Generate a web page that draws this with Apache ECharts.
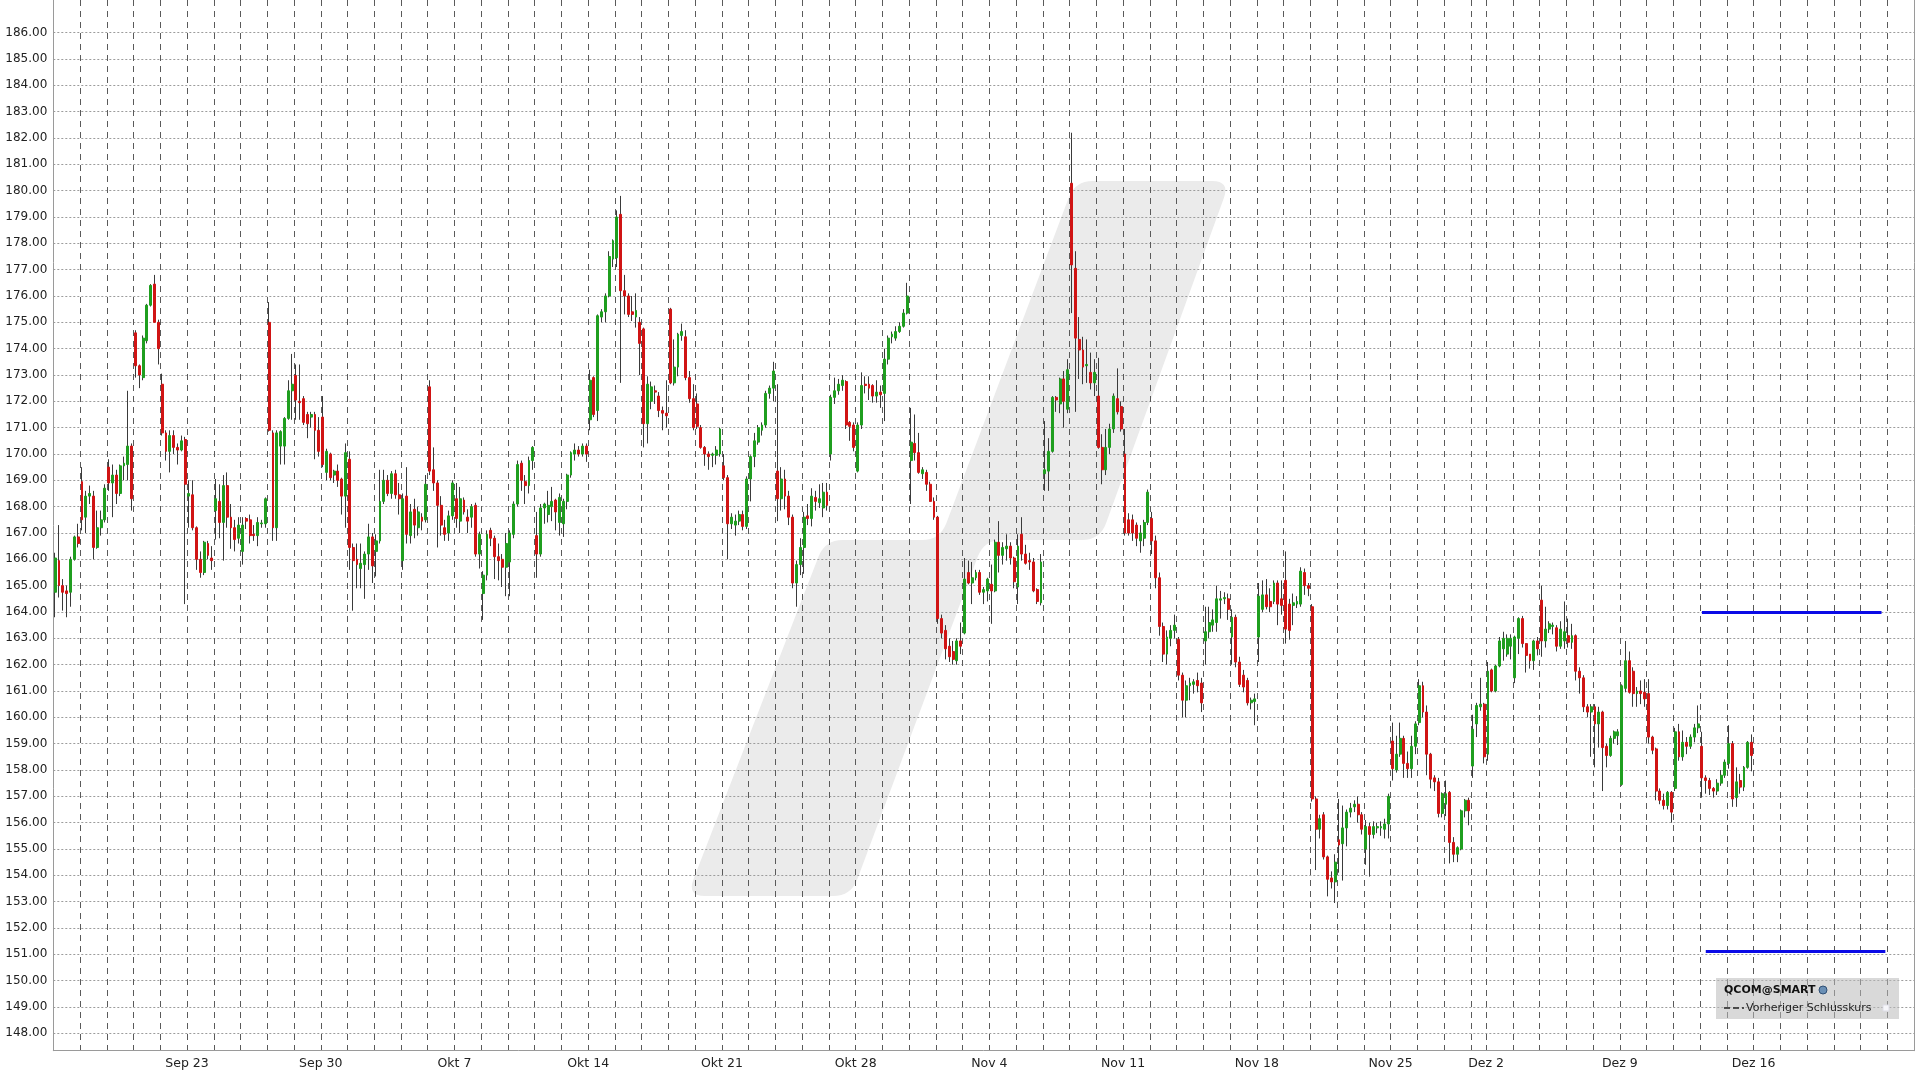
<!DOCTYPE html>
<html><head><meta charset="utf-8">
<script src="https://cdn.jsdelivr.net/npm/echarts@6/dist/echarts.min.js"></script>
<style>html,body{margin:0;padding:0;background:#fff}#chart{width:1920px;height:1080px}</style>
</head><body><div id="chart"></div>
<script>
// ---- trading days (hourly candles, 09:30 .. 15:30) ----
const tradingDays = [
 '2024-09-16','2024-09-17','2024-09-18','2024-09-19','2024-09-20',
 '2024-09-23','2024-09-24','2024-09-25','2024-09-26','2024-09-27',
 '2024-09-30','2024-10-01','2024-10-02','2024-10-03','2024-10-04',
 '2024-10-07','2024-10-08','2024-10-09','2024-10-10','2024-10-11',
 '2024-10-14','2024-10-15','2024-10-16','2024-10-17','2024-10-18',
 '2024-10-21','2024-10-22','2024-10-23','2024-10-24','2024-10-25',
 '2024-10-28','2024-10-29','2024-10-30','2024-10-31','2024-11-01',
 '2024-11-04','2024-11-05','2024-11-06','2024-11-07','2024-11-08',
 '2024-11-11','2024-11-12','2024-11-13','2024-11-14','2024-11-15',
 '2024-11-18','2024-11-19','2024-11-20','2024-11-21','2024-11-22',
 '2024-11-25','2024-11-26','2024-11-27','2024-11-29',
 '2024-12-02','2024-12-03','2024-12-04','2024-12-05','2024-12-06',
 '2024-12-09','2024-12-10','2024-12-11','2024-12-12','2024-12-13',
 '2024-12-16','2024-12-17','2024-12-18','2024-12-19','2024-12-20',
 '2024-12-23'
];
const halfDays = ['2024-11-29'];
const sessionHours = ['09:30','10:30','11:30','12:30','13:30','14:30','15:30'];
const halfDayHours = ['09:30','10:30','11:30','12:30'];
const weekLabels = {
 '2024-09-23':'Sep 23','2024-09-30':'Sep 30','2024-10-07':'Okt 7','2024-10-14':'Okt 14',
 '2024-10-21':'Okt 21','2024-10-28':'Okt 28','2024-11-04':'Nov 4','2024-11-11':'Nov 11',
 '2024-11-18':'Nov 18','2024-11-25':'Nov 25','2024-12-02':'Dez 2','2024-12-09':'Dez 9',
 '2024-12-16':'Dez 16'
};
const priceTicks = [148,149,150,151,152,153,154,155,156,157,158,159,160,161,162,163,164,165,166,167,
 168,169,170,171,172,173,174,175,176,177,178,179,180,181,182,183,184,185,186];

// ---- OHLC rows: [open, close, low, high] ----
const wkSep16 = [
 [164.75,166.05,163.8,166.25],[165.95,165.0,164.55,167.3],[165.0,164.75,164.05,165.25],[164.8,164.7,163.8,165.0],[164.75,166.0,164.2,166.1],[166.0,166.85,165.95,166.9],[166.85,166.6,166.45,167.35],
 [168.95,167.5,167.1,169.5],[167.6,168.4,167.0,168.6],[168.4,168.5,168.1,168.8],[168.4,166.45,166.0,168.6],[166.45,167.2,166.4,167.85],[167.2,167.5,166.9,167.85],[167.5,168.7,167.4,168.85],
 [169.5,168.9,168.6,169.8],[168.9,169.2,167.6,169.6],[169.2,168.5,168.1,169.4],[168.5,169.55,168.4,169.6],[169.55,169.65,169.0,169.9],[169.6,170.3,169.0,172.4],[170.3,168.3,167.85,170.4],
 [174.6,173.35,172.9,174.7],[173.35,173.0,172.5,173.4],[172.9,174.4,172.8,174.5],[174.3,175.65,174.2,175.7],[175.65,176.4,175.6,176.45],[176.45,175.0,175.0,176.8],[175.0,174.0,173.4,175.1],
 [172.65,170.8,170.7,173.05],[170.8,170.1,169.75,170.9],[170.1,170.7,169.3,170.9],[170.7,170.25,170.0,170.9],[170.25,170.15,169.6,170.4],[170.15,170.5,170.1,170.7],[170.55,168.85,164.3,170.65]
];
const wkSep23 = [
 [168.4,168.5,167.2,169.0],[168.45,167.2,167.1,169.0],[167.2,166.0,165.6,167.25],[166.0,165.5,165.3,166.3],[165.5,166.65,165.4,166.7],[166.6,166.15,166.0,166.7],[166.05,165.95,165.6,166.5],
 [167.85,168.3,166.75,169.05],[168.2,167.4,166.8,168.85],[167.4,168.8,165.95,169.2],[168.8,167.6,167.2,169.3],[167.6,167.2,166.4,168.1],[167.2,166.75,166.3,167.5],[166.8,167.3,166.6,167.6],
 [166.3,167.3,165.8,167.6],[167.55,167.45,167.15,167.6],[167.5,166.9,166.6,167.7],[166.95,166.9,166.7,167.3],[166.9,167.4,166.5,167.6],[167.35,167.38,167.2,167.5],[167.35,168.3,167.2,168.35],
 [175.0,170.9,170.85,175.77],[170.8,167.2,166.7,170.9],[167.2,170.8,166.7,170.9],[170.3,170.85,169.6,170.9],[170.3,171.35,169.6,171.4],[171.35,172.4,171.3,172.8],[172.4,172.65,171.3,173.8],
 [172.98,172.05,171.3,173.4],[172.0,171.95,171.3,173.4],[172.1,171.2,171.1,172.2],[171.5,171.15,170.6,171.6],[171.4,171.5,171.0,171.6],[171.5,170.9,169.8,171.6],[170.9,170.1,169.9,171.4]
];
const wkSep30 = [
 [171.4,169.6,169.5,172.2],[169.3,170.1,169.0,170.2],[170.0,169.1,169.0,170.05],[169.2,169.35,168.9,169.4],[169.35,169.0,168.75,169.6],[169.05,168.4,167.7,169.1],[168.4,170.05,167.2,170.4],
 [169.8,166.45,165.6,170.1],[166.45,165.95,164.05,166.6],[166.0,165.8,164.9,166.6],[165.65,165.85,164.9,166.6],[165.8,166.2,164.5,166.3],[166.2,166.85,165.6,167.35],[166.85,165.75,165.1,167.0],
 [166.3,166.7,165.35,166.95],[166.7,168.2,166.6,169.4],[168.2,169.0,168.1,169.4],[169.0,168.5,168.4,169.2],[168.5,169.25,168.3,169.35],[169.25,168.45,168.3,169.4],[168.45,168.3,167.7,168.9],
 [165.95,168.3,165.6,168.5],[168.4,166.95,166.6,169.5],[166.9,167.8,166.6,168.1],[167.9,167.3,166.8,168.3],[167.2,167.8,166.9,168.0],[167.6,167.45,167.1,167.75],[167.5,168.85,167.4,169.2],
 [172.55,169.35,169.2,172.8],[169.4,168.9,168.6,170.25],[168.9,168.05,166.45,169.0],[168.05,167.3,166.9,168.4],[167.2,166.95,166.7,167.5],[167.0,167.65,166.7,167.85],[167.65,168.9,167.5,169.0]
];
const wkOct7 = [
 [168.3,167.55,167.2,168.9],[167.45,168.3,167.0,168.75],[168.25,167.8,167.7,168.35],[167.6,167.45,167.0,167.9],[167.6,168.0,167.2,168.1],[168.05,166.2,166.1,168.15],[166.2,166.95,165.65,167.05],
 [164.7,165.4,163.7,165.55],[165.4,166.95,165.2,167.1],[167.1,166.8,166.5,167.2],[166.8,166.1,165.25,166.9],[166.1,165.95,165.2,166.6],[166.0,165.7,164.95,166.2],[165.7,166.6,164.6,167.0],
 [165.9,167.0,164.6,167.1],[166.95,168.1,166.8,168.2],[168.1,169.6,168.0,169.75],[169.65,169.0,168.6,169.75],[168.95,168.8,168.1,169.2],[168.8,169.75,168.5,169.9],[169.75,170.25,169.4,170.3],
 [166.9,166.2,165.3,167.8],[166.2,167.95,166.1,168.1],[167.95,168.1,167.35,168.15],[167.7,168.05,167.4,168.6],[168.0,168.2,167.45,168.75],[168.25,167.8,167.1,168.3],[167.4,168.35,166.9,168.5],
 [167.35,168.2,166.85,168.3],[168.2,169.2,167.9,169.25],[169.2,170.05,169.1,170.1],[170.0,170.15,169.75,170.4],[170.15,170.0,169.9,170.3],[170.0,170.3,169.9,170.4],[170.3,170.0,169.7,170.4]
];
const wkOct14 = [
 [171.3,172.8,170.9,173.2],[172.9,171.5,171.4,172.95],[171.65,175.25,171.25,175.3],[175.2,175.4,175.0,175.5],[175.4,176.0,175.0,176.1],[176.0,177.5,175.95,177.7],[177.4,178.1,177.1,178.15],
 [177.45,179.0,177.1,179.25],[179.1,176.2,172.7,179.8],[176.2,176.0,175.3,176.8],[176.0,175.3,175.2,176.1],[175.4,175.3,175.05,176.0],[175.2,175.45,174.8,176.1],[175.0,174.2,173.0,175.2],
 [174.75,171.15,170.25,174.8],[171.15,172.65,170.4,172.95],[172.0,172.55,171.7,172.75],[172.4,172.35,171.9,172.6],[172.2,171.65,171.4,172.35],[171.65,171.55,170.9,171.8],[171.55,171.45,171.0,172.8],
 [175.5,172.7,172.65,175.55],[172.7,173.3,172.6,174.35],[173.3,174.55,172.95,174.6],[174.5,174.65,174.3,174.95],[174.45,172.9,172.8,174.7],[172.9,172.1,171.95,173.15],[172.1,171.0,170.9,172.65],
 [171.9,171.05,170.95,172.3],[171.0,170.25,170.2,171.1],[170.25,170.0,169.55,170.3],[170.0,169.9,169.4,170.1],[169.95,170.0,169.5,170.05],[169.95,170.15,169.6,170.3],[170.0,170.95,169.9,171.0]
];
const wkOct21 = [
 [169.55,169.1,169.0,170.0],[169.1,167.35,166.0,169.2],[167.35,167.6,167.15,167.75],[167.3,167.45,166.9,167.7],[167.45,167.7,167.3,167.85],[167.7,167.25,167.1,167.85],[167.25,169.05,167.15,169.15],
 [169.05,169.9,168.2,169.95],[169.9,170.5,169.5,170.8],[170.45,171.0,170.35,171.1],[170.9,171.1,170.7,171.2],[171.1,172.3,171.0,172.4],[172.3,172.5,172.1,172.6],[172.5,173.15,172.0,173.5],
 [169.35,168.3,167.45,172.65],[168.3,169.05,167.85,169.5],[169.05,168.4,167.9,169.4],[168.4,167.6,167.3,168.6],[167.6,165.1,164.9,167.7],[165.1,165.8,164.2,165.95],[165.8,166.45,165.4,166.8],
 [166.45,167.6,165.45,167.8],[167.65,167.55,167.3,168.1],[167.55,168.4,167.25,168.7],[168.35,168.2,167.85,168.6],[168.15,168.3,167.95,168.85],[167.95,168.55,167.6,168.9],[168.55,168.05,167.85,168.9],
 [170.0,172.15,169.75,172.25],[172.15,172.4,171.9,172.9],[172.4,172.65,172.25,172.85],[172.6,172.8,172.4,173.0],[172.75,171.1,170.95,172.8],[171.2,171.05,170.5,171.25],[171.1,170.25,170.1,171.2]
];
const wkOct28 = [
 [169.35,171.1,169.3,171.2],[171.1,172.6,170.95,173.1],[172.65,172.6,172.3,172.95],[172.65,172.5,172.05,172.95],[172.6,172.2,171.95,172.65],[172.2,172.35,171.95,172.8],[172.35,172.25,171.75,172.6],
 [172.3,173.6,171.25,174.0],[173.6,174.4,173.4,174.5],[174.45,174.55,174.2,174.65],[174.4,174.65,174.3,174.85],[174.65,174.85,174.6,175.0],[174.85,175.35,174.8,175.5],[175.35,176.0,175.3,176.5],
 [169.75,170.45,168.1,171.75],[170.4,170.05,169.75,171.5],[170.05,169.3,169.25,170.8],[169.25,169.4,169.05,169.5],[169.3,168.85,168.6,169.4],[168.85,168.2,168.2,168.95],[168.2,167.6,167.5,168.35],
 [167.6,163.75,163.55,167.65],[163.75,163.2,163.0,163.9],[163.3,162.6,162.2,163.5],[162.7,162.3,162.1,163.0],[162.5,162.2,162.0,162.9],[162.15,162.9,162.0,163.0],[162.9,162.7,162.4,163.6],
 [163.2,165.25,163.15,166.05],[165.5,165.1,165.05,165.95],[165.1,165.3,164.3,165.9],[165.3,165.5,165.2,165.6],[165.5,164.75,164.65,165.6],[164.75,164.85,164.3,164.95],[164.8,165.25,164.4,165.3]
];
const wkNov4 = [
 [165.05,164.8,163.55,165.8],[164.8,166.65,164.75,166.75],[166.65,166.15,165.5,167.45],[166.15,166.45,165.8,166.65],[166.4,166.5,165.95,166.95],[166.5,166.05,165.8,166.65],[166.05,165.15,164.9,166.1],
 [164.95,166.5,164.3,166.95],[166.95,166.2,165.95,167.6],[166.2,165.85,165.8,166.55],[165.95,165.9,165.6,166.25],[165.9,164.8,164.75,166.05],[164.85,164.4,164.3,164.9],[164.35,165.9,164.25,166.2],
 [169.25,169.4,168.6,171.25],[169.35,170.1,168.6,170.6],[170.1,172.15,170.05,172.2],[172.15,172.05,171.6,172.2],[171.9,172.85,171.55,172.9],[172.85,172.0,171.0,173.15],[171.7,173.2,171.55,173.6],
 [180.28,177.18,175.35,182.2],[177.05,174.4,171.6,177.7],[174.35,173.95,172.85,175.2],[173.95,173.3,172.65,174.45],[173.35,173.4,172.7,174.35],[173.1,172.7,172.45,173.85],[172.7,173.1,172.2,173.6],
 [172.2,170.25,170.2,173.65],[170.25,169.4,168.85,170.75],[169.4,170.25,169.2,170.95],[170.25,170.95,170.0,171.15],[170.95,172.2,170.8,172.3],[172.1,171.6,171.5,173.25],[171.8,170.95,170.85,172.0]
];
const wkNov11 = [
 [170.0,167.0,166.9,170.95],[167.5,167.0,166.9,167.75],[167.5,167.0,166.7,167.7],[167.3,166.8,166.5,167.4],[166.7,167.0,166.25,167.3],[166.8,167.4,166.5,167.5],[167.4,168.55,167.3,168.65],
 [167.55,166.7,166.2,167.8],[166.7,165.3,164.9,166.9],[165.3,163.45,163.1,165.5],[163.45,162.4,162.1,163.6],[162.4,163.05,162.0,163.3],[163.0,163.3,162.7,163.5],[163.3,163.5,163.0,163.9],
 [162.96,161.6,161.4,163.05],[161.6,160.65,160.0,161.7],[160.65,161.2,160.0,161.4],[161.2,161.3,160.65,161.5],[161.25,161.35,160.9,161.45],[161.4,161.2,160.95,161.7],[161.3,160.55,160.2,161.5],
 [162.9,163.25,162.0,164.2],[163.25,163.6,163.0,164.2],[163.5,163.7,163.25,164.1],[163.6,164.5,163.25,165.0],[164.45,164.5,163.75,164.8],[164.5,164.55,164.3,164.75],[164.5,164.1,163.7,164.7],
 [163.05,163.8,162.0,164.1],[163.8,162.1,161.9,163.9],[162.1,161.25,161.15,162.3],[161.6,161.15,160.95,161.8],[161.4,160.55,160.45,161.5],[160.55,160.65,160.3,160.75],[160.6,160.7,159.7,160.9]
];
const wkNov18 = [
 [163.05,164.6,162.1,165.1],[164.1,164.65,164.0,165.2],[164.65,164.2,164.1,165.25],[164.4,164.2,164.0,164.9],[164.4,165.1,164.3,165.2],[165.1,164.3,163.5,165.2],[164.5,164.25,163.9,165.2],
 [165.2,163.35,162.8,166.3],[164.3,163.3,162.95,164.5],[164.25,164.35,163.5,164.7],[164.3,164.4,164.15,164.6],[164.3,165.55,164.2,165.7],[165.5,165.0,164.65,165.65],[165.0,164.9,164.6,165.1],
 [164.2,156.9,156.8,164.3],[156.9,155.75,154.2,157.0],[155.75,156.15,155.4,156.3],[156.3,154.7,154.6,156.4],[154.7,153.85,153.2,154.75],[153.9,153.75,153.5,154.15],[153.75,154.5,152.95,154.8],
 [155.35,155.15,154.1,156.9],[155.2,155.8,153.8,156.65],[155.8,156.4,155.1,156.5],[156.4,156.55,156.2,156.75],[156.6,156.7,156.4,156.85],[156.7,156.3,156.0,157.0],[156.3,155.75,155.55,156.4],
 [155.0,155.85,154.4,156.1],[155.85,155.55,153.95,156.0],[155.55,155.85,155.4,156.05],[155.8,155.85,155.6,156.0],[155.8,155.85,155.5,156.05],[155.75,155.95,155.4,156.15],[155.95,157.0,155.4,157.1]
];
const wkNov25 = [
 [159.1,158.05,157.6,159.8],[158.0,158.6,157.9,159.3],[158.6,159.2,158.5,159.8],[159.2,158.25,157.7,159.3],[158.25,158.05,157.7,158.7],[158.05,158.9,157.7,159.3],[158.9,159.75,158.6,159.85],
 [159.8,161.2,159.7,161.45],[161.2,160.2,160.0,161.35],[160.2,158.6,157.8,160.45],[158.6,157.65,157.3,158.65],[157.7,157.55,157.2,157.8],[157.55,156.35,156.2,157.7],[156.35,157.1,156.2,157.15],
 [156.7,157.1,156.25,157.6],[157.15,155.25,154.45,157.2],[155.25,154.8,154.5,155.45],[154.8,155.05,154.5,155.1],[155.0,156.45,154.95,156.5],[156.45,156.85,156.2,156.9],[156.85,156.45,155.9,156.95],
 [158.15,159.55,157.7,160.1],[159.75,160.45,159.25,160.55],[160.4,160.5,160.25,161.5],[160.5,158.5,158.25,160.55]
];
const wkDec2 = [
 [158.6,161.75,158.35,162.1],[161.8,161.0,160.95,161.85],[161.0,161.95,160.95,162.0],[161.95,162.9,161.9,163.05],[162.6,163.0,162.15,163.25],[162.4,163.0,162.3,163.15],[162.7,163.0,162.2,163.15],
 [161.5,163.05,161.3,163.1],[163.0,163.75,162.4,163.8],[163.75,162.8,162.65,163.85],[162.8,162.35,161.7,162.8],[162.4,162.15,161.85,162.4],[162.15,162.9,161.8,162.95],[162.9,162.6,162.35,163.05],
 [164.45,162.9,162.3,165.0],[162.9,163.35,162.65,164.2],[163.35,163.55,163.2,163.65],[163.45,163.5,163.15,163.6],[163.4,162.7,162.5,163.5],[162.7,163.35,162.6,163.65],[162.9,163.25,162.6,164.4],
 [163.1,162.85,162.65,163.75],[162.85,163.1,162.6,163.55],[163.1,161.75,161.4,163.15],[161.75,161.5,160.9,161.9],[161.5,160.4,160.2,161.6],[160.4,160.2,160.0,160.5],[160.2,160.4,158.5,160.5],
 [160.4,159.75,158.1,160.5],[159.75,160.2,158.85,160.4],[160.2,158.85,157.2,160.25],[158.9,158.55,158.1,159.0],[158.55,159.2,158.5,159.3],[159.2,159.45,159.0,159.5],[159.3,159.45,158.95,159.55]
];
const wkDec9 = [
 [157.45,161.2,157.4,161.25],[161.1,162.15,160.95,162.9],[162.15,160.95,160.9,162.5],[161.75,160.9,160.4,161.9],[160.9,161.0,160.4,161.15],[161.0,160.9,160.5,161.4],[160.95,160.7,160.4,161.45],
 [160.9,159.25,159.0,161.45],[159.25,158.75,158.6,159.3],[158.8,157.2,156.85,158.85],[157.2,156.85,156.7,157.3],[156.85,156.65,156.5,157.1],[156.65,157.15,156.5,157.2],[157.15,156.4,156.0,157.2],
 [157.3,159.45,157.2,159.6],[159.45,158.5,158.35,159.75],[158.5,159.05,158.35,159.5],[159.05,158.9,158.6,159.25],[158.9,159.25,158.8,159.35],[159.25,159.6,159.05,159.75],[159.6,159.75,159.4,160.45],
 [158.9,157.7,156.95,159.45],[157.7,157.6,157.1,157.8],[157.6,157.3,157.05,157.7],[157.3,157.2,156.95,157.35],[157.2,157.5,157.05,157.65],[157.5,157.8,157.4,158.0],[157.8,158.3,157.7,158.4],
 [158.25,159.0,158.05,159.7],[159.0,156.9,156.6,159.1],[156.95,157.55,156.6,158.1],[157.6,157.35,157.1,157.85],[157.35,158.1,157.2,158.15],[158.1,159.05,158.05,159.1],[159.05,158.55,157.95,159.35]
];

// horizontal level lines (previous close markers)
const levelLines = [
 {price:164.0, from:'2024-12-12 09:30', to:'2024-12-20 14:30'},
 {price:151.13, from:'2024-12-12 10:30', to:'2024-12-20 15:30'}
];

// ---- build category axis ----
const categories = [];
const dayStartIdx = new Set();
const labelIdx = {};
tradingDays.forEach(d => {
  dayStartIdx.add(categories.length);
  if (weekLabels[d]) labelIdx[categories.length] = weekLabels[d];
  const hrs = halfDays.includes(d) ? halfDayHours : sessionHours;
  hrs.forEach(h => categories.push(d + ' ' + h));
});
const ohlc = [].concat(wkSep16, wkSep23, wkSep30, wkOct7, wkOct14, wkOct21, wkOct28,
  wkNov4, wkNov11, wkNov18, wkNov25, wkDec2, wkDec9);
const wickData = ohlc.map(r => [r[0], r[1], r[2], r[3]]);
const bodyData = ohlc.map(r => [r[0], r[1], Math.min(r[0], r[1]), Math.max(r[0], r[1])]);

// ---- watermark shape (rounded polygon sampled into points) ----
function roundedPoints(pts, r) {
  const out = [];
  const n = pts.length;
  for (let i = 0; i < n; i++) {
    const p0 = pts[(i - 1 + n) % n], p1 = pts[i], p2 = pts[(i + 1) % n];
    const v1 = [p0[0] - p1[0], p0[1] - p1[1]], v2 = [p2[0] - p1[0], p2[1] - p1[1]];
    const l1 = Math.hypot(v1[0], v1[1]), l2 = Math.hypot(v2[0], v2[1]);
    const rr = Math.min(r, l1 / 2, l2 / 2);
    const a = [p1[0] + v1[0] / l1 * rr, p1[1] + v1[1] / l1 * rr];
    const b = [p1[0] + v2[0] / l2 * rr, p1[1] + v2[1] / l2 * rr];
    for (let k = 0; k <= 8; k++) {
      const t = k / 8, u = 1 - t;
      out.push([u * u * a[0] + 2 * u * t * p1[0] + t * t * b[0],
                u * u * a[1] + 2 * u * t * p1[1] + t * t * b[1]]);
    }
  }
  return out;
}
const wm = [[1075,181],[1230,181],[1100,540],[984,540],[851,896],[687,896],[825,540],[940,540]];

const GREEN = '#1f9e1f', RED = '#d01414', WICK = '#3a3a3a';
const FONT = 'DejaVu Sans';

const chart = echarts.init(document.getElementById('chart'), null, {renderer: 'canvas'});
chart.setOption({
  animation: false,
  backgroundColor: '#ffffff',
  grid: {left: 53.3, right: 6, top: 0, bottom: 29.3, containLabel: false},
  xAxis: {
    type: 'category', data: categories, boundaryGap: true,
    axisLine: {show: true, lineStyle: {color: '#9a9a9a', width: 1}},
    axisTick: {show: false},
    axisLabel: {
      interval: (i) => labelIdx[i] !== undefined,
      formatter: (v, i) => labelIdx[i] || '',
      color: '#222', fontFamily: FONT, fontSize: 12.5, margin: 7, padding: [0, 3.8, 0, 0]
    },
    splitLine: {show: true, interval: (i) => dayStartIdx.has(i),
      lineStyle: {color: '#5a5a5a', width: 1, type: [6, 5]}}
  },
  yAxis: [{
    type: 'value', min: 147.34, max: 187.24, position: 'left',
    axisLine: {show: true, lineStyle: {color: '#9a9a9a'}},
    axisTick: {show: false, customValues: priceTicks},
    axisLabel: {customValues: priceTicks, formatter: (v) => Number(v).toFixed(2),
      color: '#222', fontFamily: FONT, fontSize: 12, margin: 6},
    splitLine: {show: true, lineStyle: {color: '#9c9c9c', width: 1, type: [2, 2]}}
  }, {
    type: 'value', min: 147.34, max: 187.24, position: 'right',
    axisLine: {show: true, lineStyle: {color: '#9a9a9a'}},
    axisTick: {show: false}, axisLabel: {show: false}, splitLine: {show: false}
  }],
  graphic: [
    {type: 'polygon', z: -10, silent: true, shape: {points: roundedPoints(wm, 18)},
     style: {fill: '#ebebeb'}},
    {type: 'rect', z: 100, silent: true, shape: {x: 1716, y: 978, width: 183, height: 41},
     style: {fill: 'rgba(185,185,185,0.55)'}},
    {type: 'text', z: 101, silent: true, style: {x: 1724, y: 990, text: 'QCOM@SMART',
      font: 'bold 11px "DejaVu Sans"', fill: '#111', verticalAlign: 'middle'}},
    {type: 'circle', z: 101, silent: true, shape: {cx: 1823, cy: 990, r: 4},
     style: {fill: '#6a8fb5', stroke: '#2f4f75', lineWidth: 1}},
    {type: 'line', z: 101, silent: true, shape: {x1: 1724, y1: 1008, x2: 1744, y2: 1008},
     style: {stroke: '#222', lineWidth: 1.5, lineDash: [6, 3]}},
    {type: 'text', z: 101, silent: true, style: {x: 1746, y: 1008, text: 'Vorheriger Schlusskurs',
      font: '11px "DejaVu Sans"', fill: '#222', verticalAlign: 'middle'}},
    {type: 'rect', z: 101, silent: true, shape: {x: 1883, y: 1005, width: 6, height: 6},
     style: {fill: '#f6f6fa', stroke: '#dddde6', lineWidth: 1}}
  ],
  series: [{
    type: 'candlestick', name: 'wick', data: wickData, large: false, barWidth: 1, z: 2,
    itemStyle: {color: WICK, color0: WICK, borderColor: WICK, borderColor0: WICK,
      borderColorDoji: WICK, borderWidth: 1}
  }, {
    type: 'candlestick', name: 'QCOM', data: bodyData, large: false, barWidth: 2.4, z: 3,
    itemStyle: {color: GREEN, color0: RED, borderColor: GREEN, borderColor0: RED,
      borderColorDoji: GREEN, borderWidth: 1},
    markLine: {
      silent: true, symbol: 'none', animation: false,
      label: {show: false},
      lineStyle: {color: '#0a0ae6', width: 3, type: 'solid'},
      data: levelLines.map(l => [{coord: [l.from, l.price]}, {coord: [l.to, l.price]}])
    }
  }]
});
</script>
</body></html>
